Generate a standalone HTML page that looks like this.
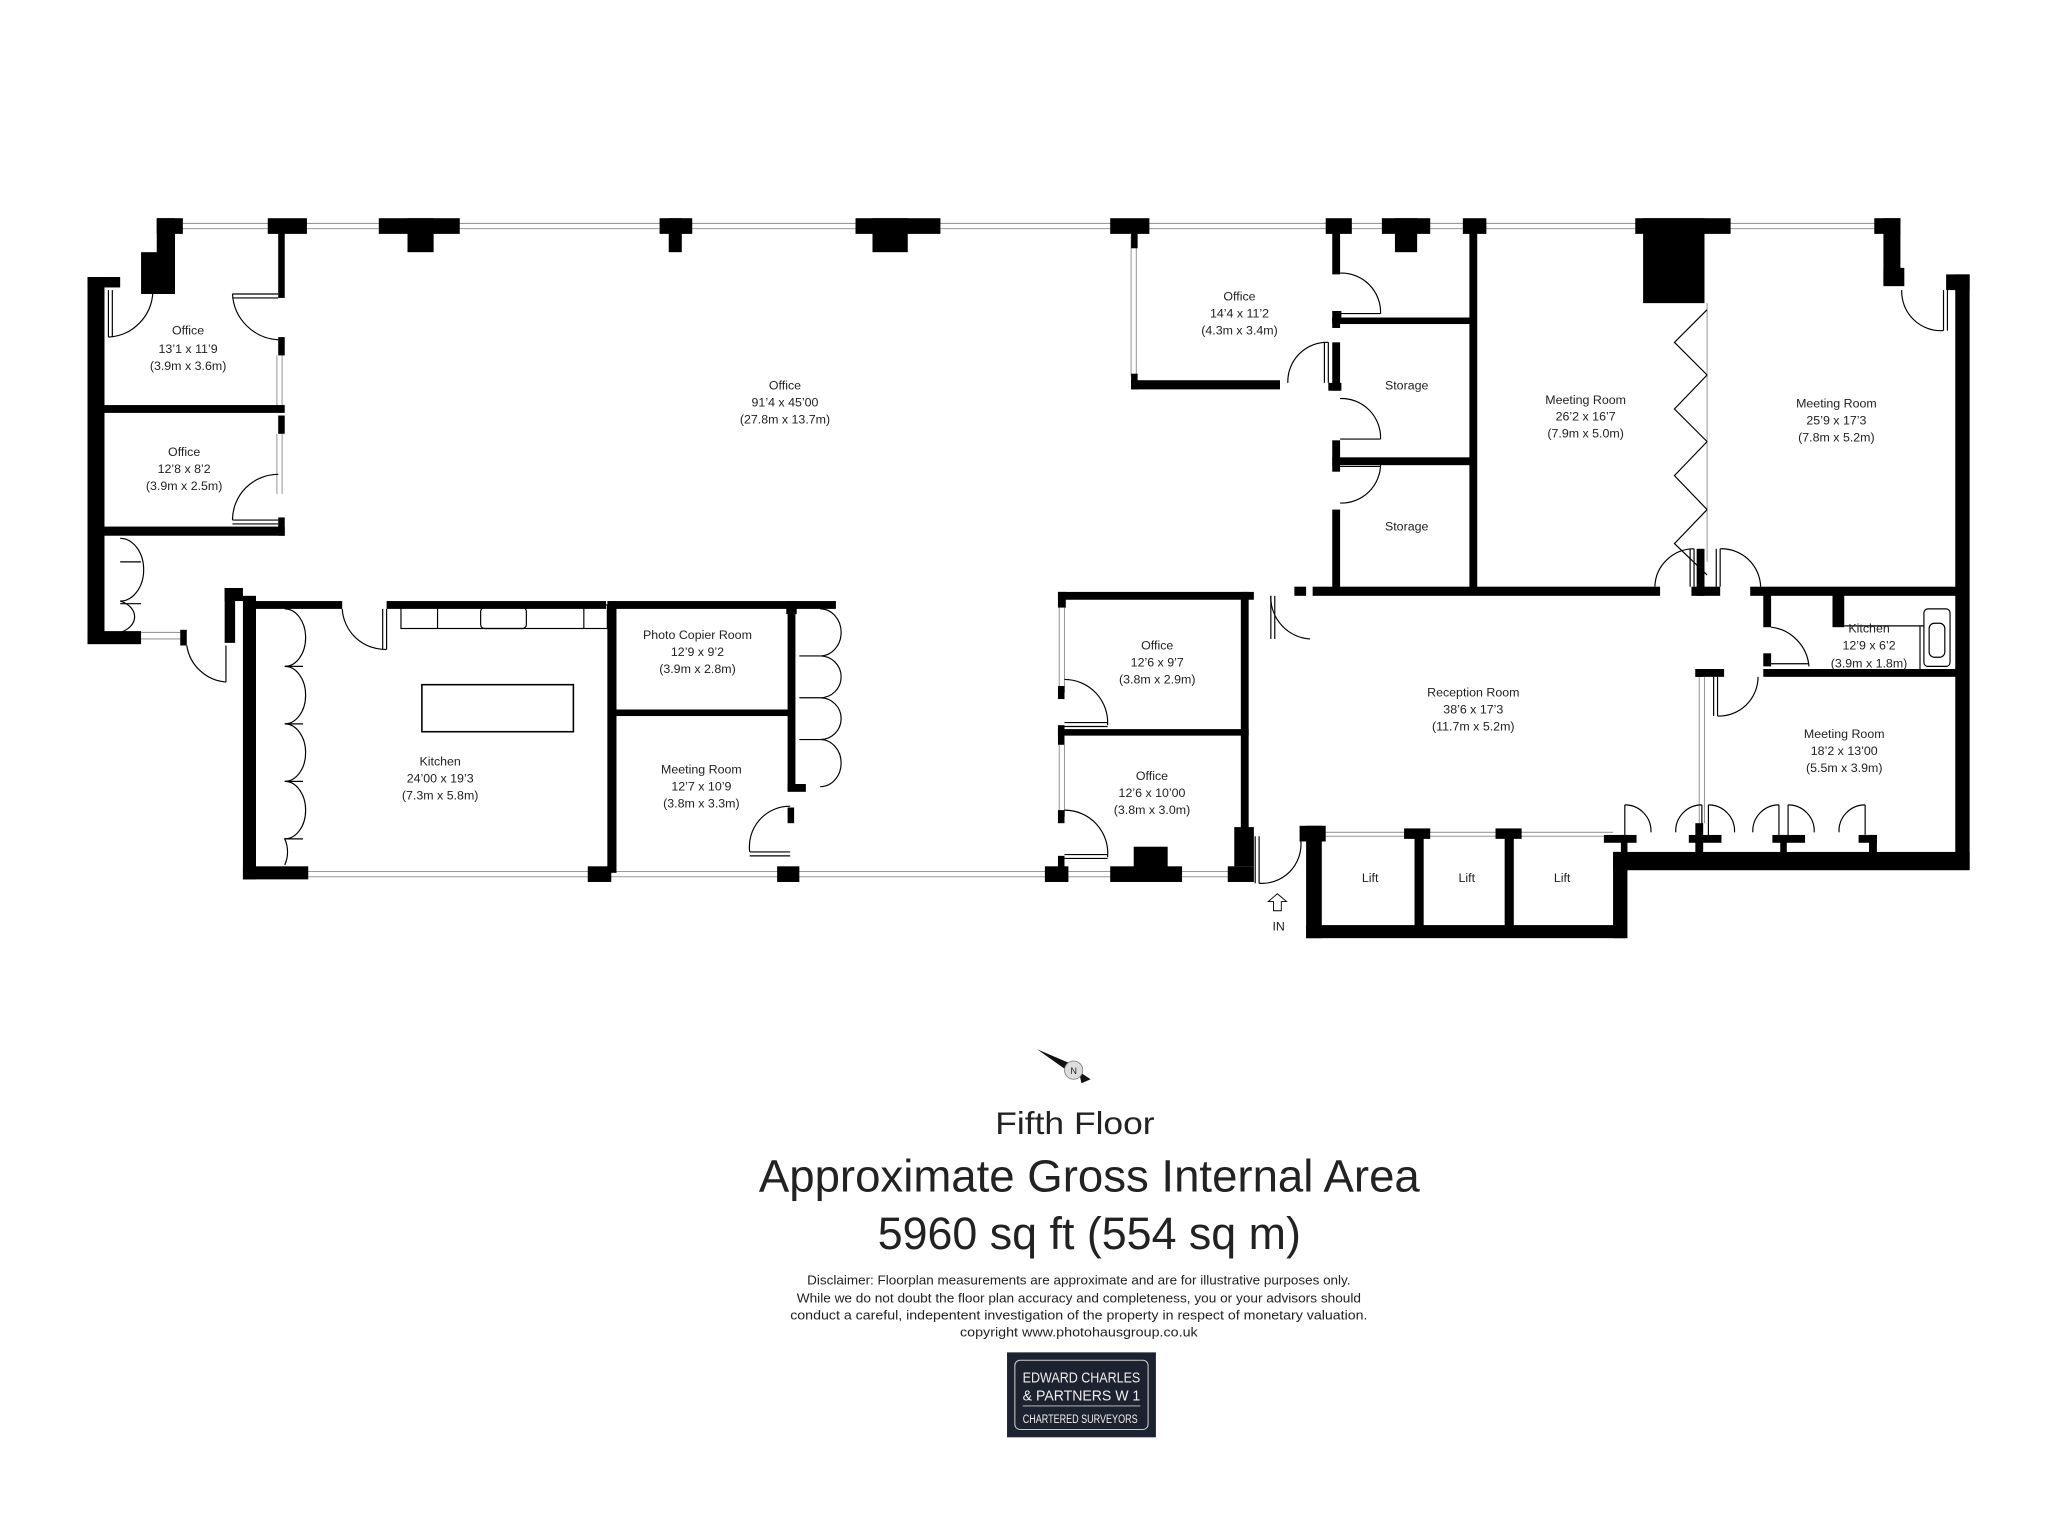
<!DOCTYPE html>
<html><head><meta charset="utf-8"><style>
html,body{margin:0;padding:0;background:#fff;}
svg{display:block;}
text{font-family:"Liberation Sans",sans-serif;fill:#222;}
</style></head><body>
<svg width="2048" height="1534" viewBox="0 0 1568 1174" preserveAspectRatio="none" xmlns="http://www.w3.org/2000/svg">
<!-- windows -->
<g stroke="#999" stroke-width="0.8" fill="none">
<line x1="140" y1="171" x2="1445" y2="171"/><line x1="140" y1="175" x2="1445" y2="175"/>
<line x1="235" y1="667" x2="945" y2="667"/><line x1="235" y1="671" x2="945" y2="671"/>
<line x1="108" y1="484" x2="140" y2="484"/><line x1="108" y1="489" x2="140" y2="489"/>
<line x1="212" y1="272" x2="212" y2="312"/><line x1="216" y1="272" x2="216" y2="312"/>
<line x1="212" y1="332" x2="212" y2="378"/><line x1="216" y1="332" x2="216" y2="378"/>
<line x1="866" y1="180" x2="866" y2="288"/><line x1="870" y1="180" x2="870" y2="288"/>
<line x1="811" y1="465" x2="811" y2="530"/><line x1="815" y1="465" x2="815" y2="530"/>
<line x1="811" y1="570" x2="811" y2="625"/><line x1="815" y1="570" x2="815" y2="625"/>
<line x1="1301" y1="518" x2="1301" y2="630"/><line x1="1305" y1="518" x2="1305" y2="630"/>
<line x1="1307" y1="232" x2="1307" y2="430"/>
<line x1="1012" y1="637" x2="1235" y2="637"/><line x1="1012" y1="640" x2="1235" y2="640"/>
</g>
<g fill="#000">
<!-- top piers -->
<rect x="120" y="167" width="20" height="12"/><rect x="120" y="167" width="14" height="58"/><rect x="108" y="193" width="18" height="32"/>
<rect x="205" y="167" width="30" height="12"/>
<rect x="290" y="167" width="62" height="12"/><rect x="312" y="167" width="20" height="26"/>
<rect x="505" y="167" width="25" height="12"/><rect x="512" y="167" width="10" height="26"/>
<rect x="655" y="167" width="65" height="12"/><rect x="668" y="167" width="27" height="26"/>
<rect x="850" y="167" width="30" height="12"/>
<rect x="1015" y="167" width="20" height="12"/>
<rect x="1058" y="167" width="37" height="12"/><rect x="1068" y="167" width="17" height="26"/>
<rect x="1120" y="167" width="18" height="12"/>
<rect x="1252" y="167" width="73" height="12"/><rect x="1258" y="167" width="47" height="65"/>
<rect x="1435" y="167" width="20" height="12"/><rect x="1442" y="167" width="13" height="50"/><rect x="1442" y="205" width="16" height="14"/>
<!-- left block -->
<rect x="67" y="212" width="25" height="8"/><rect x="67" y="212" width="13" height="280"/>
<rect x="67" y="483" width="41" height="10"/>
<rect x="213" y="175" width="5" height="53"/><rect x="213" y="258" width="5" height="14"/>
<rect x="80" y="310" width="138" height="6"/>
<rect x="213" y="318" width="5" height="14"/><rect x="213" y="396" width="5" height="14"/>
<rect x="80" y="403" width="138" height="7"/>
<rect x="138" y="482" width="5" height="12"/>
<rect x="172" y="450" width="14" height="10"/><rect x="172" y="450" width="8" height="42"/>
<!-- kitchen -->
<rect x="186" y="456" width="10" height="217"/><rect x="186" y="663" width="50" height="10"/>
<rect x="196" y="460" width="66" height="6"/><rect x="296" y="460" width="168" height="6"/>
<rect x="468" y="460" width="136" height="6"/><rect x="602" y="460" width="38" height="6"/><rect x="602" y="460" width="8" height="10"/>
<rect x="465" y="460" width="7" height="208"/>
<rect x="472" y="543" width="133" height="5"/>
<rect x="603" y="462" width="6" height="143"/><rect x="603" y="600" width="14" height="6"/>
<rect x="603" y="618" width="5" height="12"/>
<rect x="450" y="663" width="18" height="12"/><rect x="595" y="663" width="17" height="12"/><rect x="800" y="663" width="18" height="12"/>
<rect x="850" y="663" width="55" height="12"/><rect x="868" y="648" width="26" height="20"/>
<rect x="940" y="663" width="20" height="12"/>
<!-- right -->
<rect x="866" y="175" width="5" height="15"/><rect x="866" y="291" width="114" height="7"/><rect x="866" y="286" width="5" height="12"/>
<rect x="1020" y="175" width="6" height="35"/><rect x="1020" y="238" width="7" height="8"/>
<rect x="1020" y="243" width="110" height="5"/><rect x="1020" y="243" width="6" height="8"/>
<rect x="1017" y="293" width="10" height="6"/><rect x="1020" y="262" width="6" height="37"/>
<rect x="1020" y="337" width="6" height="18"/><rect x="1020" y="350" width="110" height="6"/>
<rect x="1020" y="355" width="6" height="6"/>
<rect x="1020" y="390" width="6" height="62"/>
<rect x="1125" y="175" width="6" height="278"/>
<rect x="1005" y="449" width="266" height="7"/>
<rect x="1299" y="420" width="6" height="36"/><rect x="1295" y="449" width="22" height="7"/>
<rect x="1340" y="449" width="160" height="7"/>
<rect x="1490" y="210" width="18" height="12"/><rect x="1497" y="210" width="11" height="455"/>
<rect x="1350" y="452" width="6" height="28"/><rect x="1350" y="500" width="6" height="10"/>
<rect x="1403" y="455" width="9" height="25"/>
<rect x="1350" y="512" width="150" height="6"/>
<rect x="1298" y="512" width="22" height="6"/><rect x="1298" y="512" width="6" height="6"/>
<rect x="1235" y="652" width="273" height="14"/><rect x="1235" y="652" width="11" height="66"/>
<rect x="1228" y="639" width="25" height="6"/><rect x="1241" y="639" width="5" height="16"/>
<rect x="1298" y="630" width="6" height="26"/><rect x="1293" y="639" width="25" height="6"/>
<rect x="1357" y="639" width="25" height="6"/><rect x="1363" y="639" width="5" height="16"/>
<rect x="1423" y="639" width="14" height="6"/><rect x="1431" y="639" width="6" height="16"/>
<!-- mid offices -->
<rect x="810" y="453" width="150" height="6"/><rect x="810" y="453" width="6" height="12"/>
<rect x="950" y="453" width="6" height="187"/><rect x="945" y="633" width="15" height="30"/>
<rect x="810" y="558" width="146" height="5"/><rect x="810" y="555" width="5" height="15"/>
<rect x="810" y="525" width="5" height="10"/><rect x="810" y="620" width="5" height="10"/>
<rect x="810" y="655" width="5" height="12"/>
<rect x="991" y="449" width="9" height="7"/>
<!-- lifts -->
<rect x="995" y="632" width="20" height="12"/><rect x="1000" y="632" width="12" height="86"/>
<rect x="1000" y="708" width="245" height="10"/>
<rect x="1083" y="637" width="7" height="72"/><rect x="1075" y="634" width="20" height="8"/>
<rect x="1152" y="637" width="7" height="72"/><rect x="1145" y="634" width="20" height="8"/>
</g>
<!-- doors / fixtures -->
<g fill="none" stroke="#000" stroke-width="0.9">
<path d="M83 258 A36 36 0 0 0 117 224"/><line x1="83" y1="222" x2="83" y2="258"/><line x1="86" y1="222" x2="86" y2="258"/>
<path d="M213 260 A37 37 0 0 1 178 225"/><line x1="178" y1="225" x2="213" y2="225"/><line x1="178" y1="228" x2="213" y2="228"/>
<path d="M213 363 A35 35 0 0 0 178 398"/><line x1="178" y1="398" x2="213" y2="398"/><line x1="178" y1="401" x2="213" y2="401"/>
<path d="M92 412 A18 24 0 0 1 92 460 A18 13 0 0 1 92 484"/>
<line x1="92" y1="430" x2="108" y2="430"/><line x1="92" y1="462" x2="108" y2="462"/>
<path d="M143 494 A33 33 0 0 0 173 522"/><line x1="173" y1="494" x2="173" y2="522"/>
<path d="M262 466 A33 33 0 0 0 296 497"/><line x1="293" y1="466" x2="293" y2="497"/><line x1="296" y1="466" x2="296" y2="497"/>
<rect x="307" y="463" width="158" height="18"/><rect x="368" y="465" width="35" height="16" rx="3"/>
<line x1="335" y1="463" x2="335" y2="481"/><line x1="447" y1="463" x2="447" y2="481"/>
<rect x="323" y="524" width="116" height="36" stroke-width="1.2"/>
<path d="M218 466 A16 22 0 0 1 218 510 A16 22 0 0 1 218 554 A16 22 0 0 1 218 598 A16 22 0 0 1 218 642 A16 20 0 0 1 218 662"/>
<line x1="218" y1="510" x2="232" y2="510"/><line x1="218" y1="554" x2="232" y2="554"/><line x1="218" y1="598" x2="232" y2="598"/><line x1="218" y1="642" x2="232" y2="642"/>
<path d="M628 466 A16 18 0 0 1 628 502 A16 16 0 0 1 628 534 A16 16 0 0 1 628 566 A16 18 0 0 1 628 602"/>
<line x1="612" y1="502" x2="628" y2="502"/><line x1="612" y1="534" x2="628" y2="534"/><line x1="612" y1="566" x2="628" y2="566"/>
<path d="M605 617 A31 31 0 0 0 574 652"/><line x1="574" y1="652" x2="605" y2="652"/><line x1="574" y1="655" x2="605" y2="655"/>
<path d="M1026 209 A30 30 0 0 1 1057 240"/><line x1="1026" y1="240" x2="1057" y2="240"/>
<path d="M1017 262 A30 30 0 0 0 986 293"/><line x1="1017" y1="262" x2="1017" y2="293"/><line x1="1014" y1="262" x2="1014" y2="293"/>
<path d="M1026 305 A30 30 0 0 1 1057 336"/><line x1="1026" y1="336" x2="1057" y2="336"/>
<path d="M1026 385 A30 30 0 0 0 1057 355"/><line x1="1026" y1="357" x2="1057" y2="357"/>
<path d="M1307 287 L1282 262 L1307 237 M1307 287 L1282 313 L1307 338 M1307 338 L1282 364 L1307 390 M1307 390 L1282 416 L1307 440"/>
<path d="M1267 449 A30 30 0 0 1 1297 420"/><line x1="1297" y1="420" x2="1297" y2="449"/><line x1="1294" y1="420" x2="1294" y2="449"/>
<path d="M1348 449 A30 30 0 0 0 1317 420"/><line x1="1317" y1="420" x2="1317" y2="449"/><line x1="1314" y1="420" x2="1314" y2="449"/>
<path d="M1456 222 A30 30 0 0 0 1488 253"/><line x1="1488" y1="222" x2="1488" y2="253"/><line x1="1491" y1="222" x2="1491" y2="253"/>
<path d="M1356 480 A33 33 0 0 1 1385 510"/><line x1="1356" y1="508" x2="1385" y2="508"/>
<rect x="1473" y="466" width="20" height="44" rx="3"/><rect x="1477" y="477" width="12" height="26" rx="4"/>
<line x1="1412" y1="479" x2="1473" y2="479"/><line x1="1470" y1="479" x2="1470" y2="512"/>
<path d="M1346 518 A30 30 0 0 1 1315 548"/><line x1="1312" y1="518" x2="1312" y2="548"/><line x1="1315" y1="518" x2="1315" y2="548"/>
<path d="M973 456 A32 32 0 0 0 1003 489"/><line x1="973" y1="456" x2="973" y2="489"/><line x1="976" y1="456" x2="976" y2="489"/>
<path d="M815 520 A33 33 0 0 1 848 555"/><line x1="815" y1="553" x2="848" y2="553"/><line x1="815" y1="556" x2="848" y2="556"/>
<path d="M815 620 A33 33 0 0 1 848 656"/><line x1="815" y1="654" x2="848" y2="654"/><line x1="815" y1="657" x2="848" y2="657"/>
<path d="M996 644 A30 30 0 0 1 964 676"/><line x1="964" y1="640" x2="964" y2="676"/><line x1="961" y1="640" x2="961" y2="676"/>
<path d="M1244 616 A20 20 0 0 1 1264 637 M1283 637 A20 20 0 0 1 1303 616"/><line x1="1244" y1="616" x2="1244" y2="639"/><line x1="1303" y1="616" x2="1303" y2="639"/>
<path d="M1308 616 A20 20 0 0 1 1328 637 M1342 637 A20 20 0 0 1 1362 616"/><line x1="1308" y1="616" x2="1308" y2="639"/><line x1="1362" y1="616" x2="1362" y2="639"/>
<path d="M1369 616 A20 20 0 0 1 1389 637 M1408 637 A20 20 0 0 1 1428 616"/><line x1="1369" y1="616" x2="1369" y2="639"/><line x1="1428" y1="616" x2="1428" y2="639"/>
<path d="M975 697 L975 690 L971 690 L978 684 L985 690 L981 690 L981 697 Z" stroke-width="0.7"/>
</g>
<!-- labels -->
<g font-size="9.5" text-anchor="middle">
<text x="144" y="256">Office</text><text x="144" y="270">13’1 x 11’9</text><text x="144" y="283">(3.9m x 3.6m)</text>
<text x="141" y="349">Office</text><text x="141" y="362">12’8 x 8’2</text><text x="141" y="375">(3.9m x 2.5m)</text>
<text x="601" y="298">Office</text><text x="601" y="311">91’4 x 45’00</text><text x="601" y="324">(27.8m x 13.7m)</text>
<text x="534" y="489">Photo Copier Room</text><text x="534" y="502">12’9 x 9’2</text><text x="534" y="515">(3.9m x 2.8m)</text>
<text x="337" y="586">Kitchen</text><text x="337" y="599">24’00 x 19’3</text><text x="337" y="612">(7.3m x 5.8m)</text>
<text x="537" y="592">Meeting Room</text><text x="537" y="605">12’7 x 10’9</text><text x="537" y="618">(3.8m x 3.3m)</text>
<text x="949" y="230">Office</text><text x="949" y="243">14’4 x 11’2</text><text x="949" y="256">(4.3m x 3.4m)</text>
<text x="1077" y="298">Storage</text><text x="1077" y="406">Storage</text>
<text x="1214" y="309">Meeting Room</text><text x="1214" y="322">26’2 x 16’7</text><text x="1214" y="335">(7.9m x 5.0m)</text>
<text x="1406" y="312">Meeting Room</text><text x="1406" y="325">25’9 x 17’3</text><text x="1406" y="338">(7.8m x 5.2m)</text>
<text x="886" y="497">Office</text><text x="886" y="510">12’6 x 9’7</text><text x="886" y="523">(3.8m x 2.9m)</text>
<text x="882" y="597">Office</text><text x="882" y="610">12’6 x 10’00</text><text x="882" y="623">(3.8m x 3.0m)</text>
<text x="1128" y="533">Reception Room</text><text x="1128" y="546">38’6 x 17’3</text><text x="1128" y="559">(11.7m x 5.2m)</text>
<text x="1431" y="484">Kitchen</text><text x="1431" y="497">12’9 x 6’2</text><text x="1431" y="511">(3.9m x 1.8m)</text>
<text x="1412" y="565">Meeting Room</text><text x="1412" y="578">18’2 x 13’00</text><text x="1412" y="591">(5.5m x 3.9m)</text>
<text x="1049" y="675">Lift</text><text x="1123" y="675">Lift</text><text x="1196" y="675">Lift</text>
<text x="979" y="712">IN</text>
</g>
<!-- compass -->
<path d="M794 803 L822 815 L818 820 Z" fill="#111"/><path d="M826 820 L835 826 L828 829 Z" fill="#111"/>
<circle cx="822" cy="819" r="7" fill="#ddd" stroke="#777" stroke-width="0.6"/>
<text x="822" y="822" font-size="7" text-anchor="middle">N</text>
<!-- title -->
<g text-anchor="middle">
<text x="823" y="868" font-size="24" textLength="122" lengthAdjust="spacingAndGlyphs">Fifth Floor</text>
<text x="834" y="912" font-size="35" textLength="506" lengthAdjust="spacingAndGlyphs">Approximate Gross Internal Area</text>
<text x="834" y="956" font-size="35" textLength="324" lengthAdjust="spacingAndGlyphs">5960 sq ft (554 sq m)</text>
<g font-size="10">
<text x="826" y="983" textLength="416" lengthAdjust="spacingAndGlyphs">Disclaimer: Floorplan measurements are approximate and are for illustrative purposes only.</text>
<text x="826" y="997" textLength="432" lengthAdjust="spacingAndGlyphs">While we do not doubt the floor plan accuracy and completeness, you or your advisors should</text>
<text x="826" y="1010" textLength="442" lengthAdjust="spacingAndGlyphs">conduct a careful, indepentent investigation of the property in respect of monetary valuation.</text>
<text x="826" y="1023" textLength="182" lengthAdjust="spacingAndGlyphs">copyright www.photohausgroup.co.uk</text>
</g>
</g>
<rect x="771" y="1035" width="114" height="65" fill="#1d2230"/>
<rect x="777" y="1041" width="102" height="53" rx="4" fill="none" stroke="#ccc" stroke-width="0.8"/>
<g font-size="11" style="fill:#eee">
<text x="783" y="1058" textLength="90" lengthAdjust="spacingAndGlyphs" style="fill:#eee">EDWARD CHARLES</text>
<text x="783" y="1072" textLength="90" lengthAdjust="spacingAndGlyphs" style="fill:#eee">&amp; PARTNERS   W 1</text>
<line x1="783" y1="1076" x2="873" y2="1076" stroke="#ccc" stroke-width="0.6"/>
<text x="783" y="1089" font-size="9" textLength="88" lengthAdjust="spacingAndGlyphs" style="fill:#eee">CHARTERED SURVEYORS</text>
</g>
</svg>
</body></html>
